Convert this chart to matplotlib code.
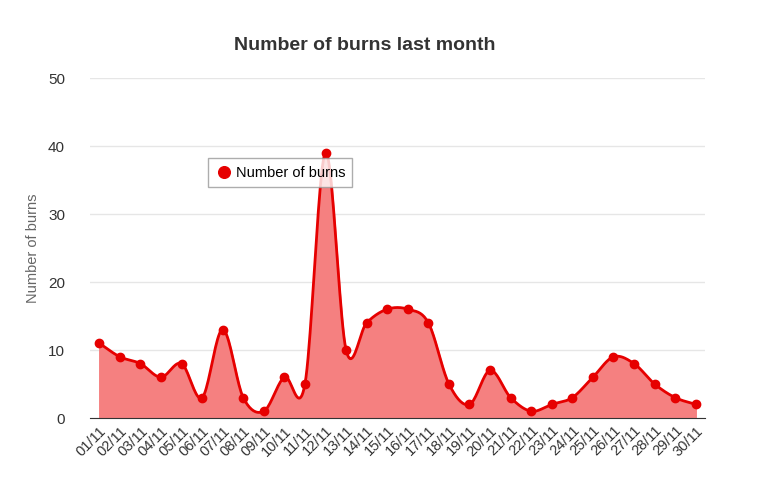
import matplotlib
matplotlib.use("Agg")
import matplotlib.pyplot as plt
import numpy as np

plt.rcParams['font.family'] = ['Liberation Sans', 'DejaVu Sans']

days = ["%02d/11" % d for d in range(1, 31)]
burns = [11, 9, 8, 6, 8, 3, 13, 3, 1, 6, 5, 39, 10, 14, 16, 16, 14, 5, 2, 7, 3, 1, 2, 3, 6, 9, 8, 5, 3, 2]

def smooth(x, y, n=20, t=0.5):
    x = np.asarray(x, float); y = np.asarray(y, float)
    xs, ys = [], []
    for i in range(len(x) - 1):
        y0 = y[i - 1] if i > 0 else y[i]
        y3 = y[i + 2] if i + 2 < len(y) else y[i + 1]
        m1 = t * (y[i + 1] - y0) / (2 if i > 0 else 1)
        m2 = t * (y3 - y[i]) / (2 if i + 2 < len(y) else 1)
        s = np.linspace(0, 1, n, endpoint=False)
        h00 = 2*s**3 - 3*s**2 + 1; h10 = s**3 - 2*s**2 + s
        h01 = -2*s**3 + 3*s**2; h11 = s**3 - s**2
        xs.extend(x[i] + s * (x[i + 1] - x[i]))
        ys.extend(h00*y[i] + h10*m1*2 + h01*y[i+1] + h11*m2*2)
    xs.append(x[-1]); ys.append(y[-1])
    return np.array(xs), np.array(ys)

fig = plt.figure(figsize=(7.68, 5.01), dpi=100)
ax = fig.add_axes([90/768, 1-418/501, 615/768, 340/501])
x = np.arange(len(burns))
sx, sy = smooth(x, burns)
sy = np.maximum(sy, 0)
ax.fill_between(sx, sy, 0, color="#f58080", alpha=1)
ax.plot(sx, sy, color="#e60000", lw=2)
ax.plot(x, burns, "o", color="#e60000", ms=6, label="Number of burns")
ax.set_xlim(-0.45, len(burns) - 0.55)
ax.set_ylim(0, 50)
ax.set_yticks(range(0, 51, 10))
ax.set_xticks(x)
ax.set_xticklabels(days, rotation=45, ha="right", rotation_mode="anchor", fontsize=10.5, color="#333")
ax.tick_params(axis="y", length=0, labelsize=11, colors="#333", pad=18)
ax.tick_params(axis="x", length=0, pad=4)
ax.grid(axis="y", color="#e6e6e6", lw=1)
ax.set_axisbelow(True)
for s in ["top", "right", "left"]:
    ax.spines[s].set_visible(False)
ax.spines["bottom"].set_color("#333")
ax.set_ylabel("Number of burns", color="#666", fontsize=10.5, labelpad=6)
fig.text(0.475, 1-46/501, "Number of burns last month", ha="center", va="center",
         fontsize=14, fontweight="bold", color="#333")
leg = ax.legend(loc="upper left", bbox_to_anchor=(0.18, 0.785), fontsize=10.5, frameon=True,
                fancybox=False, edgecolor="#999", handletextpad=0.2, borderpad=0.5,
                markerscale=1.4, handlelength=1.2)
fig.savefig("out.png", dpi=100)
